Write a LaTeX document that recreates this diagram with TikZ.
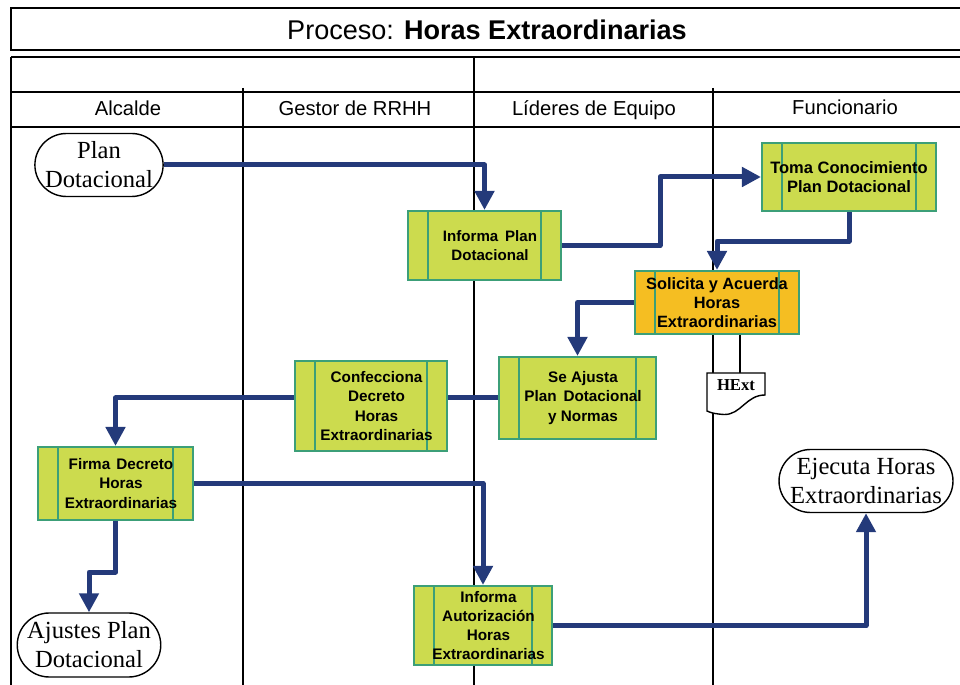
\documentclass[tikz,border=0pt]{standalone}
\usepackage{fontspec}
\setmainfont{Liberation Sans}
\newfontfamily\serifface{Liberation Serif}
\usetikzlibrary{arrows.meta,shapes.misc}

\definecolor{procfill}{HTML}{CCDB4E}
\definecolor{procline}{HTML}{3C9F78}
\definecolor{keyfill}{HTML}{F5BE22}
\definecolor{flowblue}{HTML}{243A7A}

% nudges a line of box text a little to the right
\newcommand\ind{\hspace*{0.22cm}}

\begin{document}
\begin{tikzpicture}[x=0.02cm,y=-0.02cm,
  lane/.style={line width=0.8pt, black},
  frame/.style={line width=1.1pt, black},
  proc/.style={rectangle, draw=procline, line width=1.2pt, fill=procfill,
    inner sep=0pt, align=center,
    font=\fontsize{8.7}{10.9}\selectfont\bfseries,
    path picture={
      \draw[procline, line width=1.2pt]
        ([xshift=0.4cm]path picture bounding box.north west) --
        ([xshift=0.4cm]path picture bounding box.south west)
        ([xshift=-0.4cm]path picture bounding box.north east) --
        ([xshift=-0.4cm]path picture bounding box.south east);
    }},
  keyproc/.style={proc, fill=keyfill},
  terminal/.style={rounded rectangle, draw, line width=0.8pt, fill=white,
    inner sep=0pt, align=center,
    font=\serifface\fontsize{14}{16.5}\selectfont},
  header/.style={font=\fontsize{11.5}{13}\selectfont},
  flow/.style={draw=flowblue, line width=0.1cm, line join=round},
  arr/.style={flow, -{Triangle[width=0.38cm,length=0.38cm]}}
]
\useasboundingbox (0,0) rectangle (960,685);

% title band
\draw[frame] (960,8) -- (11,8) -- (11,50) -- (960,50);
\node (title) at (487,30) {\fontsize{15.4}{18}\selectfont Proceso: \textbf{Horas Extraordinarias}};

% swimlane grid
\draw[lane] (11,57) -- (960,57);
\draw[lane] (11,92) -- (960,92);
\draw[lane] (11,127) -- (960,127);
\draw[lane] (11,57) -- (11,685);
\draw[lane] (474,57) -- (474,685);
\draw[lane] (243,88) -- (243,685);
\draw[lane] (713,88) -- (713,685);

\node[header] (h1) at (128,108) {Alcalde};
\node[header] (h2) at (355,108) {Gestor de RRHH};
\node[header] (h3) at (594,110) {Líderes de Equipo};
\node[header] (h4) at (845,107) {Funcionario};

% terminals
\node[terminal, minimum width=2.36cm, minimum height=1.26cm] (plan) at (99,165) {Plan\\Dotacional};
\node[terminal, minimum width=2.84cm, minimum height=1.28cm] (ajustes) at (89,645) {Ajustes Plan\\Dotacional};
\node[terminal, minimum width=3.48cm, minimum height=1.26cm] (ejecuta) at (866,481) {Ejecuta Horas\\Extraordinarias};

% process steps
\node[proc, minimum width=3.06cm, minimum height=1.38cm,
  font=\fontsize{8.6}{10.9}\selectfont\bfseries] (infplan) at (484.5,245.5)
  {\ind Informa\hspace{0.45em}Plan\\\ind Dotacional};
\node[proc, minimum width=3.48cm, minimum height=1.36cm,
  font=\fontsize{9.4}{10.9}\selectfont\bfseries] (toma) at (849,177)
  {Toma Conocimiento\\Plan Dotacional};
\node[keyproc, minimum width=3.28cm, minimum height=1.26cm,
  font=\fontsize{9.3}{10.9}\selectfont\bfseries] (solicita) at (717,302.5)
  {Solicita y Acuerda\\Horas\\Extraordinarias};
\node[proc, minimum width=3.14cm, minimum height=1.64cm] (seajusta) at (577.5,398)
  {\ind Se Ajusta\\\ind Plan\hspace{0.45em}Dotacional\\\ind y Normas};
\node[proc, minimum width=3.04cm, minimum height=1.80cm] (confecciona) at (371,406)
  {\ind Confecciona\\\ind Decreto\\\ind Horas\\\ind Extraordinarias};
\node[proc, minimum width=3.10cm, minimum height=1.46cm] (firma) at (115.5,483.5)
  {\ind Firma\hspace{0.4em}Decreto\\\ind Horas\\\ind Extraordinarias};
\node[proc, minimum width=2.76cm, minimum height=1.58cm] (infaut) at (483,625.5)
  {\ind Informa\\\ind Autorización\\\ind Horas\\\ind Extraordinarias};

% document produced by the request
\coordinate (doctop) at (740,373);
\draw[lane] (solicita.south -| doctop) -- (doctop);
\node[inner sep=0pt, font=\serifface\fontsize{9.5}{11}\selectfont\bfseries] (doc) at (736,385) {\phantom{HExt}};
\begin{scope}[shift={(doc.center)}]
  \draw[lane, fill=white] (-29,-12) -- (29,-12) -- (29,10)
    .. controls (10,10) and (5,30) .. (-12,29.5)
    .. controls (-20,29) and (-25,28) .. (-29,26) -- cycle;
\end{scope}
\node[inner sep=0pt, font=\serifface\fontsize{9.5}{11}\selectfont\bfseries] at (doc.center) {HExt};

% flow connectors
\draw[arr] (plan.east) -| (infplan.north);
\draw[arr] (infplan.east) -- ++(98,0) |- (toma.west);
\draw[arr] (toma.south) -- ++(0,29) -| (solicita.north);
\draw[arr] (solicita.west) -| (seajusta.north);
\draw[flow] (seajusta.west) -- (seajusta.west -| confecciona.east);
\draw[arr] (confecciona.west |- seajusta.west) -| (firma.north);
\draw[arr] (firma.east) -| (infaut.north);
\draw[arr] (firma.south) -- ++(0,51) -| (ajustes.north);
\draw[arr] (infaut.east) -| (ejecuta.south);
\end{tikzpicture}
\end{document}
